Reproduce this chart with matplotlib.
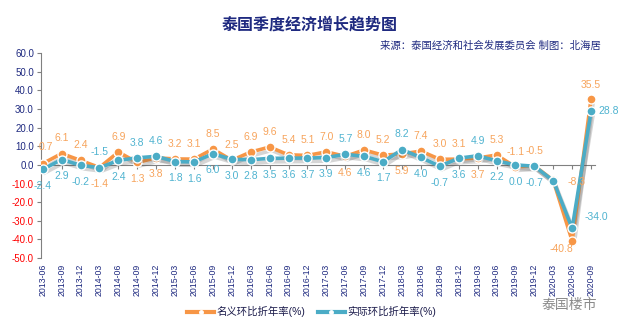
import matplotlib
matplotlib.use("Agg")
import matplotlib.pyplot as plt
import matplotlib.patheffects as pe
from matplotlib.lines import Line2D

plt.rcParams['font.family'] = ['Liberation Sans', 'Noto Sans CJK SC', 'DejaVu Sans']

# 季度
quarters = ["2013-06", "2013-09", "2013-12",
            "2014-03", "2014-06", "2014-09", "2014-12",
            "2015-03", "2015-06", "2015-09", "2015-12",
            "2016-03", "2016-06", "2016-09", "2016-12",
            "2017-03", "2017-06", "2017-09", "2017-12",
            "2018-03", "2018-06", "2018-09", "2018-12",
            "2019-03", "2019-06", "2019-09", "2019-12",
            "2020-03", "2020-06", "2020-09"]

# 名义环比折年率(%)
nominal = [0.7, 6.1, 2.4,
           -1.4, 6.9, 1.3, 3.8,
           3.2, 3.1, 8.5, 2.5,
           6.9, 9.6, 5.4, 5.1,
           7.0, 4.6, 8.0, 5.2,
           5.9, 7.4, 3.0, 3.1,
           3.7, 5.3, -1.1, -0.5,
           -8.3, -40.8, 35.5]

# 实际环比折年率(%)
real = [-2.4, 2.9, -0.2,
        -1.5, 2.4, 3.8, 4.6,
        1.8, 1.6, 6.0, 3.0,
        2.8, 3.5, 3.6, 3.7,
        3.9, 5.7, 4.6, 1.7,
        8.2, 4.0, -0.7, 3.6,
        4.9, 2.2, 0.0, -0.7,
        -8.5, -34.0, 28.8]

# 实际值标签在上方的季度
real_on_top = [3, 5, 6, 16, 19, 23]

ORANGE = '#f79646'
ORANGE_TXT = '#f7a45c'
BLUE = '#4bacc6'
BLUE_TXT = '#4fb3d0'
NAVY = '#1f2a80'

fig = plt.figure(figsize=(6.19, 3.30), dpi=100)
ax = fig.add_axes([0.066, 0.218, 0.895, 0.621])

x = list(range(len(quarters)))
shadow = [pe.SimpleLineShadow(offset=(1.5, -2.5), shadow_color='#444444', alpha=0.22),
          pe.Normal()]

# 先画线(带阴影)，再画点
for vals, col, z in ((nominal, ORANGE, 3), (real, BLUE, 4)):
    ax.plot(x, vals, color=col, lw=2.6, path_effects=shadow, zorder=z)
    ax.plot(x, vals, ls='none', marker='o', ms=6.5, mfc=col, mec='white',
            mew=1.0, zorder=z + 0.5)

# 数据标签
special = {
    ('n', 0): (2, 12, 'center'),
    ('n', 27): (17, -1, 'center'),
    ('n', 28): (-8, -6, 'center'),
    ('n', 29): (0, 10, 'center'),
    ('r', 28): (9, 8, 'left'),
    ('r', 29): (5, 0, 'left'),
}
skip = [('r', 27)]

for i in x:
    if i in real_on_top:
        pos = {'n': (0, -12, 'center'), 'r': (0, 11, 'center')}
    else:
        pos = {'n': (0, 11, 'center'), 'r': (0, -12, 'center')}
    for key, vals, col in (('n', nominal, ORANGE_TXT), ('r', real, BLUE_TXT)):
        if (key, i) in skip:
            continue
        dx, dy, ha = special.get((key, i), pos[key])
        ax.annotate("%.1f" % vals[i], (i, vals[i]), xytext=(dx, dy),
                    textcoords='offset points', ha=ha, va='center',
                    fontsize=7.5, color=col, zorder=6)

ax.set_xlim(-0.1, 29.2)
ax.set_ylim(-50, 60)
yt = list(range(-50, 70, 10))
ax.set_yticks(yt)
ax.set_yticklabels(["%.1f" % v for v in yt], fontsize=7)
for lab, v in zip(ax.get_yticklabels(), yt):
    lab.set_color('#ff0000' if v < 0 else NAVY)

for s in ['top', 'right']:
    ax.spines[s].set_visible(False)
ax.spines['left'].set_color('#808080')
ax.spines['bottom'].set_color('#808080')
ax.spines['bottom'].set_position(('data', 0))
ax.tick_params(axis='y', length=3, color='#808080', pad=2)
ax.set_xticks(x)
ax.tick_params(axis='x', length=3, color='#808080', labelbottom=False)

sec = ax.secondary_xaxis('bottom')
sec.set_xticks(x)
sec.set_xticklabels(quarters, rotation=90, fontsize=6.3, color=NAVY)
sec.tick_params(length=0, pad=4)
sec.spines['bottom'].set_visible(False)

fig.text(0.5, 0.925, "泰国季度经济增长趋势图", ha='center', va='center',
         fontsize=11.5, fontweight='bold', color=NAVY)
fig.text(0.97, 0.862, "来源：泰国经济和社会发展委员会 制图：北海居", ha='right',
         va='center', fontsize=7.5, style='italic', color=NAVY)

handles = [Line2D([], [], color=ORANGE, lw=3, marker='o', ms=2.5, mfc='white', mec='white'),
           Line2D([], [], color=BLUE, lw=3, marker='o', ms=2.5, mfc='white', mec='white')]
fig.legend(handles, ["名义环比折年率(%)", "实际环比折年率(%)"], loc='center',
           bbox_to_anchor=(0.503, 0.055), ncol=2, frameon=False, fontsize=7.5,
           handlelength=2.6, handletextpad=0.2, columnspacing=1.2,
           labelcolor='#1a1a4a')

fig.text(0.875, 0.075, "泰国楼市", ha='left', va='center', fontsize=10,
         color='#8a8a8a')

fig.savefig("out.png", dpi=100)
